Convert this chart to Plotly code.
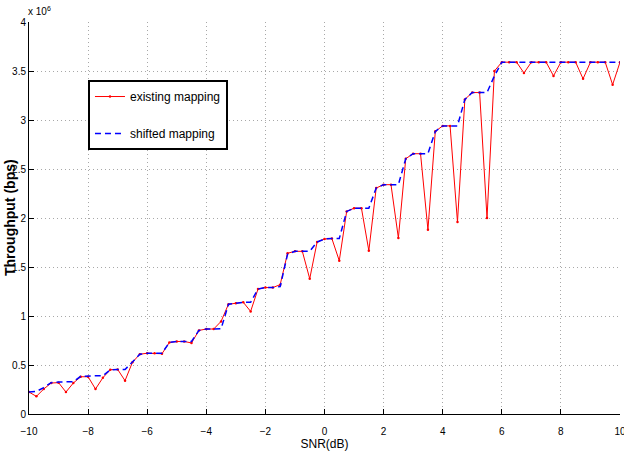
import plotly.graph_objects as go

snr_db = [-10, -9.75, -9.5, -9.25, -9, -8.75, -8.5, -8.25, -8, -7.75,
          -7.5, -7.25, -7, -6.75, -6.5, -6.25, -6, -5.75, -5.5, -5.25,
          -5, -4.75, -4.5, -4.25, -4, -3.75, -3.5, -3.25, -3, -2.75,
          -2.5, -2.25, -2, -1.75, -1.5, -1.25, -1, -0.75, -0.5, -0.25,
          0, 0.25, 0.5, 0.75, 1, 1.25, 1.5, 1.75, 2, 2.25,
          2.5, 2.75, 3, 3.25, 3.5, 3.75, 4, 4.25, 4.5, 4.75,
          5, 5.25, 5.5, 5.75, 6, 6.25, 6.5, 6.75, 7, 7.25,
          7.5, 7.75, 8, 8.25, 8.5, 8.75, 9, 9.25, 9.5, 9.75, 10]

# throughput in units of 1e6 bps
existing_mapping = [0.224, 0.18, 0.255, 0.316, 0.32, 0.224, 0.316, 0.38, 0.38, 0.255,
                    0.37, 0.452, 0.455, 0.34, 0.527, 0.61, 0.62, 0.62, 0.615, 0.73,
                    0.74, 0.74, 0.725, 0.853, 0.867, 0.867, 0.945, 1.12, 1.13, 1.14,
                    1.047, 1.275, 1.29, 1.29, 1.32, 1.64, 1.66, 1.66, 1.38, 1.755,
                    1.786, 1.79, 1.564, 2.067, 2.10, 2.10, 1.666, 2.306, 2.34, 2.34,
                    1.796, 2.605, 2.656, 2.656, 1.88, 2.884, 2.94, 2.94, 1.96, 3.21,
                    3.28, 3.28, 2.0, 3.5, 3.59, 3.59, 3.59, 3.48, 3.59, 3.59,
                    3.59, 3.45, 3.59, 3.59, 3.59, 3.42, 3.59, 3.59, 3.59, 3.36, 3.59]

shifted_mapping = [0.224, 0.23, 0.27, 0.32, 0.326, 0.33, 0.33, 0.385, 0.39, 0.39,
                   0.39, 0.45, 0.455, 0.455, 0.53, 0.61, 0.62, 0.62, 0.62, 0.73,
                   0.74, 0.74, 0.74, 0.853, 0.867, 0.867, 0.87, 1.12, 1.13, 1.14,
                   1.14, 1.275, 1.29, 1.29, 1.30, 1.63, 1.66, 1.66, 1.66, 1.755,
                   1.786, 1.79, 1.79, 2.067, 2.10, 2.10, 2.10, 2.306, 2.34, 2.34,
                   2.34, 2.605, 2.656, 2.656, 2.656, 2.884, 2.94, 2.94, 2.94, 3.21,
                   3.28, 3.28, 3.28, 3.45, 3.59, 3.59, 3.59, 3.59, 3.59, 3.59,
                   3.59, 3.59, 3.59, 3.59, 3.59, 3.59, 3.59, 3.59, 3.59, 3.59, 3.59]

x_ticks = [-10, -8, -6, -4, -2, 0, 2, 4, 6, 8, 10]
y_ticks = [0, 0.5, 1, 1.5, 2, 2.5, 3, 3.5, 4]
y_tick_labels = ["0", "0.5", "1", "1.5", "2", "2.5", "3", "3.5", "4"]

SANS = "Liberation Sans, Arial, sans-serif"
GRID = "#a8a8a8"

fig = go.Figure()
fig.add_trace(go.Scatter(
    x=snr_db, y=existing_mapping, name="existing mapping",
    mode="lines+markers", legendgroup="a",
    line=dict(color="#ff0000", width=1),
    marker=dict(color="#ff0000", size=2.5),
))
fig.add_trace(go.Scatter(
    x=snr_db, y=shifted_mapping, name="shifted mapping",
    mode="lines", legendgroup="b",
    line=dict(color="#0000ff", width=1.5, dash="6px,4px"),
))

fig.update_layout(
    width=624, height=459,
    margin=dict(l=29, r=4, t=22, b=45),
    paper_bgcolor="white", plot_bgcolor="white",
    font=dict(family=SANS, size=10, color="black"),
    showlegend=True,
    legend=dict(
        x=0.0998, y=0.852, xanchor="left", yanchor="top",
        bgcolor="white", bordercolor="black", borderwidth=2,
        font=dict(family=SANS, size=12, color="black"),
        tracegroupgap=18, traceorder="grouped",
    ),
    xaxis=dict(
        range=[-10, 10], tickvals=x_ticks, ticks="inside", ticklen=5,
        tickcolor="black", showline=True, linecolor="black", linewidth=1,
        mirror=False, showgrid=True, gridcolor=GRID, griddash="1px,3px",
        gridwidth=1, zeroline=False, tickfont=dict(family=SANS, size=10),
        ticklabelstandoff=8, ticklabeloverflow="allow",
        title=dict(text="SNR(dB)", font=dict(family=SANS, size=12), standoff=2),
        automargin=False,
    ),
    yaxis=dict(
        range=[0, 4], tickvals=y_ticks, ticktext=y_tick_labels,
        ticks="inside", ticklen=5, tickcolor="black", showline=True,
        linecolor="black", linewidth=1, mirror=False, showgrid=True,
        gridcolor=GRID, griddash="1px,3px", gridwidth=1, zeroline=False,
        tickfont=dict(family=SANS, size=10), automargin=False,
        ticklabeloverflow="allow",
    ),
    annotations=[
        dict(text="x 10<sup>6</sup>", xref="paper", yref="paper", x=0, y=1,
             xanchor="left", yanchor="bottom", showarrow=False,
             font=dict(family=SANS, size=10), xshift=-3, yshift=3),
        dict(text="<b>Throughput (bps)</b>", xref="paper", yref="paper", x=0, y=0.5,
             xanchor="center", yanchor="middle", textangle=-90, showarrow=False,
             font=dict(family=SANS, size=14), xshift=-19),
    ],
)

fig.write_html("out.html",
               config={"displayModeBar": False},
               post_script="document.body.style.margin='0px';"
                           "document.body.style.overflow='hidden';")
